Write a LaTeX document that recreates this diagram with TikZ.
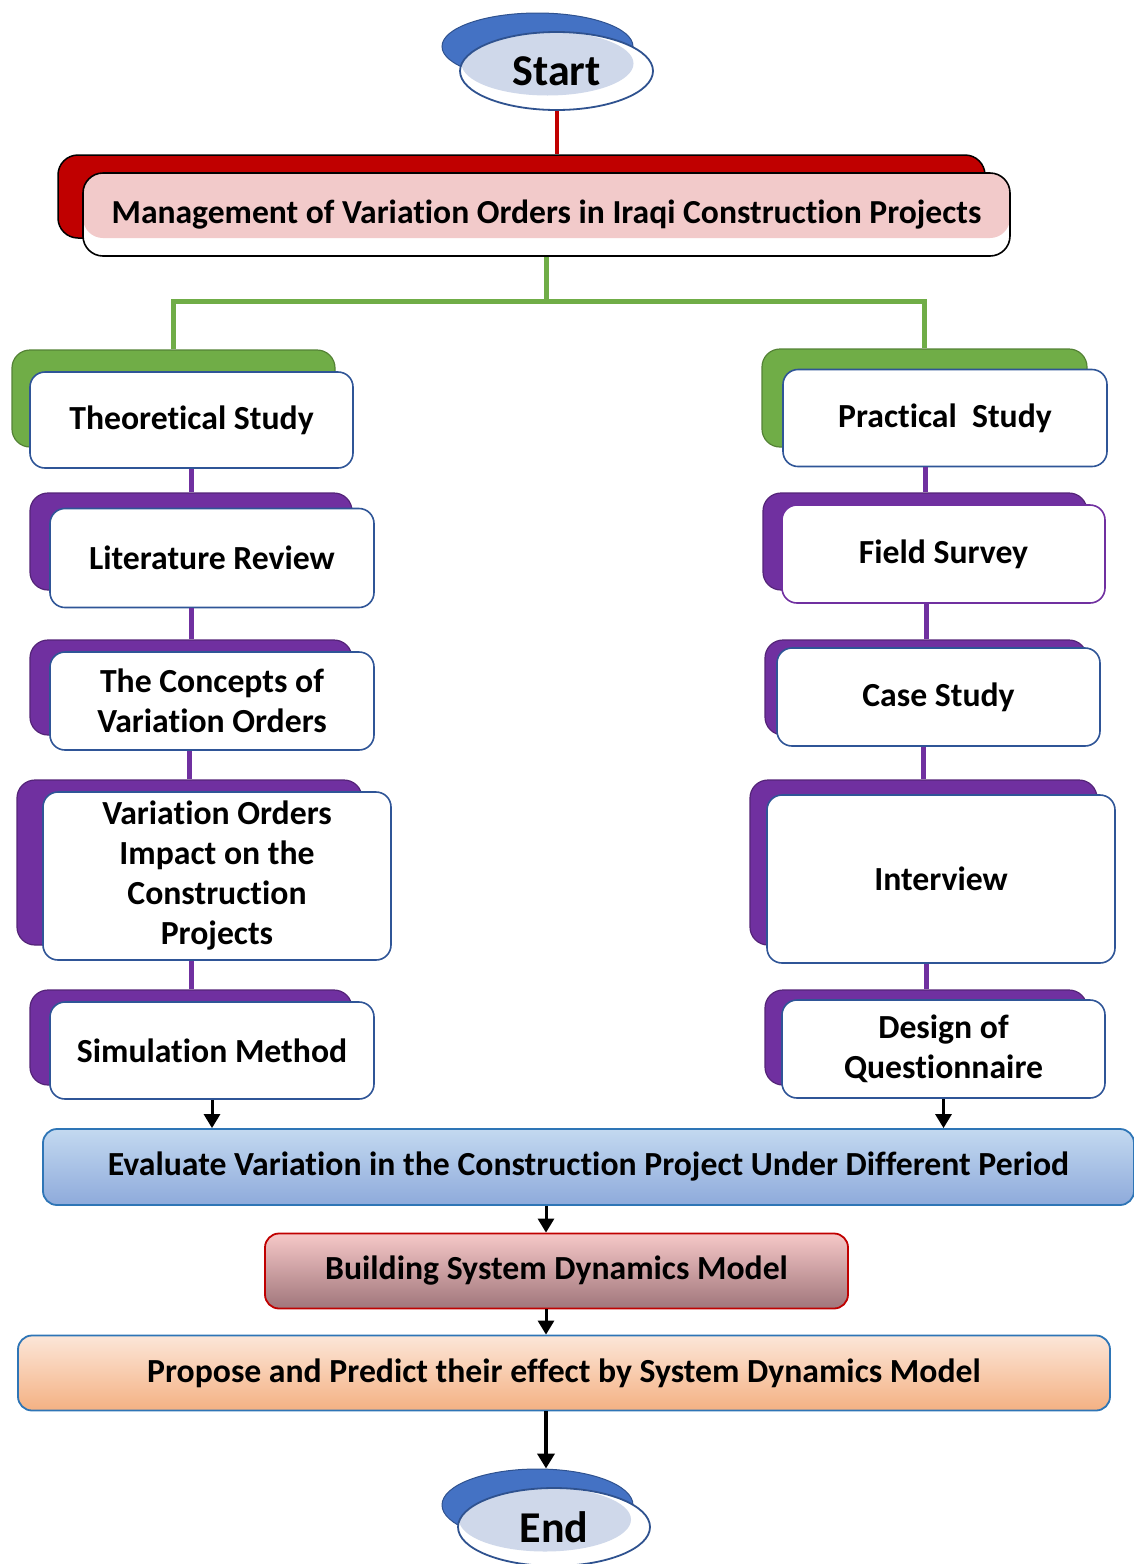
\documentclass[tikz,border=0pt]{standalone}
\usepackage{fontspec}
\setmainfont{Carlito}[Ligatures=NoCommon]
\usetikzlibrary{shapes.geometric,arrows.meta}

\definecolor{ovalblue}{HTML}{4472C4}
\definecolor{ovalline}{HTML}{2F528F}
\definecolor{ovalfill}{HTML}{CFD8EA}
\definecolor{darkred}{HTML}{C00000}
\definecolor{titlepink}{HTML}{F2CACA}
\definecolor{leafgreen}{HTML}{70AD47}
\definecolor{violet}{HTML}{7030A0}
\definecolor{edgeblue}{HTML}{2F5597}
\definecolor{stepblue}{HTML}{2E75B6}
\definecolor{evaltop}{HTML}{C3D9F0}
\definecolor{evalbot}{HTML}{8EAADB}
\definecolor{buildtop}{HTML}{F6C8C8}
\definecolor{buildbot}{HTML}{A0767B}
\definecolor{proptop}{HTML}{FCE6D8}
\definecolor{propbot}{HTML}{F4B183}

\begin{document}
\begin{tikzpicture}[x=1pt,y=-1pt,
  wh/.style 2 args={minimum width=#1pt, minimum height=#2pt},
  boxfont/.style={font=\bfseries\fontsize{33.7}{40}\selectfont},
  shadowbox/.style={rounded corners=18pt, fill=#1, draw=#1!75!black, line width=1.2pt, inner sep=0pt},
  frontbox/.style={rounded corners=15pt, fill=white, draw=edgeblue, line width=1.6pt,
                   inner sep=0pt, align=center, boxfont},
  stagebox/.style={rounded corners=14pt, line width=1.8pt, inner sep=0pt, align=center, boxfont},
  greenline/.style={leafgreen, line width=5pt},
  violetline/.style={violet, line width=5pt},
  arr/.style={line width=3pt, -{Triangle[length=14pt,width=16pt]}},
  oval/.style={ellipse, inner sep=0pt}
]
\useasboundingbox (0,0) rectangle (1134,1564);

% ---------- start terminal ----------
\node[oval, fill=ovalblue, draw=ovalline, line width=1pt, wh={191}{67}] (stb) at (537.5,46.5) {};
\node[oval, fill=white, draw=ovalline, line width=1.8pt, wh={193}{78},
      path picture={\fill[ovalfill] ([xshift=-9pt,yshift=7.5pt]path picture bounding box.center)
                    ellipse [x radius=86pt, y radius=32pt];},
      font=\bfseries\fontsize{44}{50}\selectfont] (st) at (556.5,71) {Start};

% ---------- title ----------
\node[shadowbox=darkred, draw=black, line width=1.5pt, rounded corners=20pt, wh={927}{83}] (tb) at (521.5,196.5) {};
\node[frontbox, draw=black, rounded corners=20pt, wh={927}{83},
      font=\bfseries\fontsize{33.6}{40}\selectfont,
      path picture={\fill[titlepink] (path picture bounding box.north west)
                    rectangle ([yshift=18pt]path picture bounding box.south east);}]
      (title) at (546.5,214.5) {Management of Variation Orders in Iraqi Construction Projects};
\draw[darkred, line width=4pt] (st.south) -- (st.south |- tb.north);

% ---------- theoretical branch ----------
\node[shadowbox=leafgreen, wh={323}{97}] (tsb) at (173.5,398.5) {};
\node[frontbox, wh={323}{96}] (ts) at (191.5,420) {Theoretical Study};

\node[shadowbox=violet, wh={322}{97}] (lrb) at (191,541.5) {};
\node[frontbox, wh={324}{99}] (lr) at (212,558) {Literature Review};

\node[shadowbox=violet, wh={322}{95}] (cvb) at (191,687.5) {};
\node[frontbox, wh={324}{98}] (cv) at (212,701) {The Concepts of\\Variation Orders};

\node[shadowbox=violet, wh={345}{165}] (vib) at (189.5,862.5) {};
\node[frontbox, wh={348}{168}] (vi) at (217,876) {Variation Orders\\Impact on the\\Construction\\Projects};

\node[shadowbox=violet, wh={322}{95}] (smb) at (191,1037.5) {};
\node[frontbox, wh={324}{97}] (sm) at (212,1050.5) {Simulation Method};

% ---------- practical branch ----------
\node[shadowbox=leafgreen, wh={325}{98}] (psb) at (924.5,398) {};
\node[frontbox, wh={324}{97}] (ps) at (945,418) {Practical~ Study};

\node[shadowbox=violet, wh={324}{97}] (fsb) at (925,541.5) {};
\node[frontbox, draw=violet, wh={323}{98}] (fs) at (943.5,554) {Field Survey};

\node[shadowbox=violet, wh={322}{95}] (csb) at (926,687.5) {};
\node[frontbox, wh={323}{98}] (cs) at (938.5,697) {Case Study};

\node[shadowbox=violet, wh={347}{165}] (ivb) at (923.5,862.5) {};
\node[frontbox, wh={348}{168}] (iv) at (941,879) {Interview};

\node[shadowbox=violet, wh={322}{95}] (dqb) at (926,1037.5) {};
\node[frontbox, wh={323}{98}] (dq) at (943.5,1049) {Design of\\Questionnaire};

% ---------- branch connectors ----------
\draw[greenline] (title.south) -- ++(0,45) coordinate (gj);
\draw[greenline] (tsb.north) |- (gj) -| (psb.north);

\draw[violetline] (ts.south -| lrb.north) -- (lrb.north);
\draw[violetline] (lr.south -| cvb.north) -- (cvb.north);
\draw[violetline] (cv.south -| vib.north) -- (vib.north);
\draw[violetline] (vi.south -| smb.north) -- (smb.north);

\draw[violetline] (ps.south -| fsb.north) -- (fsb.north);
\draw[violetline] (fs.south -| csb.north) -- (csb.north);
\draw[violetline] (cs.south -| ivb.north) -- (ivb.north);
\draw[violetline] (iv.south -| dqb.north) -- (dqb.north);

% ---------- synthesis stages ----------
\node[stagebox, draw=stepblue, top color=evaltop, bottom color=evalbot, wh={1091}{76}] (ev) at (588.5,1167)
  {Evaluate Variation in the Construction Project Under Different Period};
\node[stagebox, draw=darkred, top color=buildtop, bottom color=buildbot, wh={583}{75}] (bd) at (556.5,1271)
  {Building System Dynamics Model};
\node[stagebox, draw=stepblue, top color=proptop, bottom color=propbot, wh={1092}{75}] (pp) at (564,1373)
  {Propose and Predict their effect by System Dynamics Model};

\coordinate (axis) at (546,0);
\draw[arr] (sm.south) -- (sm.south |- ev.north);
\draw[arr] (dq.south) -- (dq.south |- ev.north);
\draw[arr] (ev.south -| axis) -- (bd.north -| axis);
\draw[arr] (bd.south -| axis) -- (pp.north -| axis);

% ---------- end terminal ----------
\node[oval, fill=ovalblue, draw=ovalline, line width=1pt, wh={191}{72}] (enb) at (537.5,1505) {};
\node[oval, fill=white, draw=ovalline, line width=1.8pt, wh={192}{78},
      path picture={\fill[ovalfill] ([xshift=-9pt,yshift=7.5pt]path picture bounding box.center)
                    ellipse [x radius=86pt, y radius=32pt];},
      font=\bfseries\fontsize{44}{50}\selectfont] (en) at (554,1527) {End};
\draw[line width=4pt, -{Triangle[length=15pt,width=17pt]}] (pp.south -| axis) -- (enb.north -| axis);
\end{tikzpicture}
\end{document}
